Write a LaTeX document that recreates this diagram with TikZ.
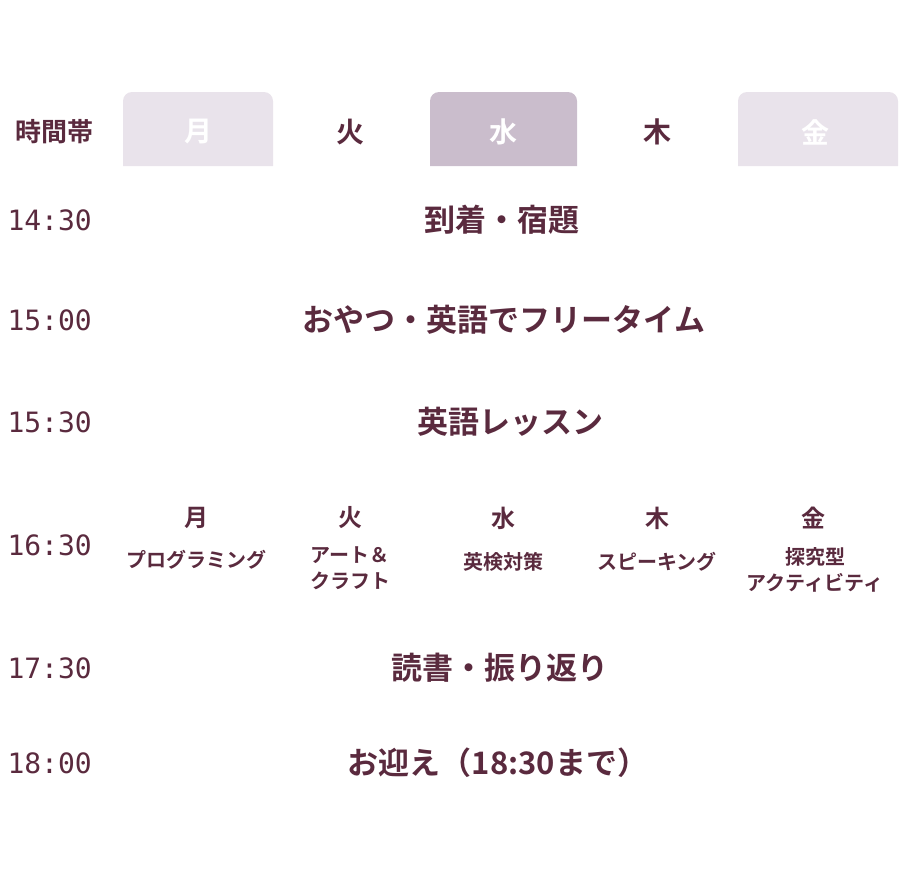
\documentclass[tikz,border=0pt]{standalone}
\usepackage{fontspec}
\setmainfont{Noto Sans CJK JP}[BoldFont={Noto Sans CJK JP Bold}]
\newfontfamily\tmfont{DejaVu Sans Mono}
\definecolor{tx}{HTML}{5A2A3E}
\definecolor{tabA}{HTML}{E9E3EB}
\definecolor{tabB}{HTML}{CABDCC}
\begin{document}
\begin{tikzpicture}[x=1pt,y=-1pt,
  tab/.style={rounded corners=9pt},
  hd/.style={text=tx,font=\fontsize{28}{30}\selectfont\bfseries},
  hdw/.style={text=white,font=\fontsize{28}{30}\selectfont\bfseries},
  tm/.style={text=tx,anchor=west,font=\fontsize{28}{30}\tmfont},
  mn/.style={text=tx,font=\fontsize{31}{34}\selectfont\bfseries},
  dy/.style={text=tx,font=\fontsize{24}{26}\selectfont\bfseries},
  sb/.style={text=tx,align=center,font=\fontsize{20}{26}\selectfont\bfseries}]
\useasboundingbox (0,0) rectangle (910,870);
\fill[tabA] (123,166) [tab] -- (123,92) -- (273,92) [sharp corners] -- (273,166) -- cycle;
\fill[tabB] (430,166) [tab] -- (430,92) -- (577,92) [sharp corners] -- (577,166) -- cycle;
\fill[tabA] (738,166) [tab] -- (738,92) -- (898,92) [sharp corners] -- (898,166) -- cycle;
\node[text=tx,font=\fontsize{26}{28}\selectfont\bfseries] (h0) at (54,132) {時間帯};
\node[hdw] (h1) at (198,132) {月};
\node[hd] (h2) at (350,132) {火};
\node[hdw] (h3) at (503,132) {水};
\node[hd] (h4) at (657,132) {木};
\node[hdw] (h5) at (815,132) {金};
\node[tm] (t1) at (4,220) {14:30};
\node[tm] (t2) at (4,320) {15:00};
\node[tm] (t3) at (4,422) {15:30};
\node[tm] (t4) at (4,545) {16:30};
\node[tm] (t5) at (4,668) {17:30};
\node[tm] (t6) at (4,763) {18:00};
\node[mn] (m1) at (502,220) {到着・宿題};
\node[mn] (m2) at (504,320) {おやつ・英語でフリータイム};
\node[mn] (m3) at (510,422) {英語レッスン};
\node[mn] (m5) at (500,668) {読書・振り返り};
\node[mn] (m6) at (498,763) {お迎え（18:30まで）};
\node[dy] (d1) at (196,518) {月};
\node[dy] (d2) at (350,518) {火};
\node[dy] (d3) at (503,518) {水};
\node[dy] (d4) at (657,518) {木};
\node[dy] (d5) at (813,518) {金};
\node[sb] (s1) at (196,560) {プログラミング};
\node[sb] (s2) at (350,568) {アート＆\\クラフト};
\node[sb] (s3) at (503,562) {英検対策};
\node[sb] (s4) at (657,562) {スピーキング};
\node[sb] (s5) at (815,570) {探究型\\アクティビティ};
\end{tikzpicture}
\end{document}
